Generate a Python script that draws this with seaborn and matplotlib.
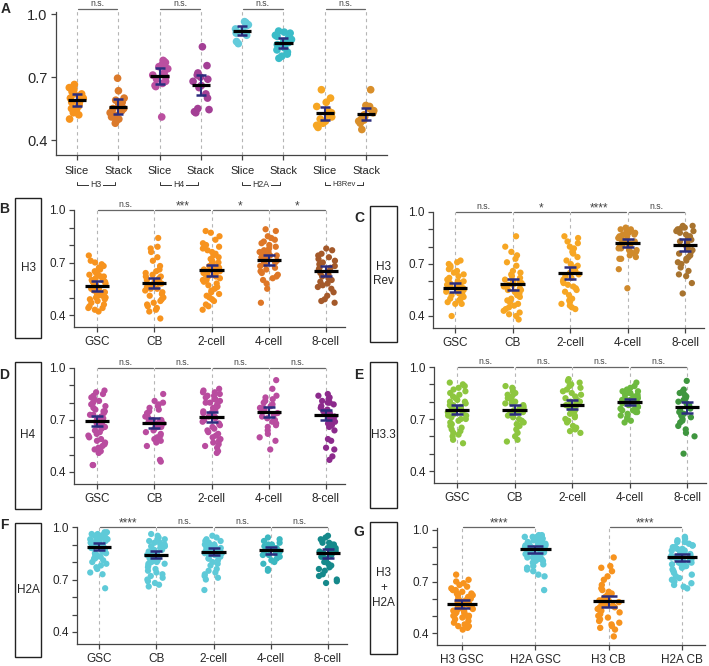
import matplotlib
matplotlib.use("Agg")
import matplotlib.pyplot as plt
from matplotlib.patches import Rectangle
import matplotlib.transforms as mtransforms
import seaborn as sns
import pandas as pd
import numpy as np

# ---------------- data ----------------
A_cats = ["Slice", "Stack", "Slice ", "Stack ", "Slice  ", "Stack  ", "Slice   ", "Stack   "]
A_groups = ["H3", "H4", "H2A", "H3Rev"]
A_vals = [
    [0.665, 0.65, 0.64, 0.63, 0.62, 0.62, 0.61, 0.60, 0.60, 0.59, 0.58, 0.58, 0.57, 0.56, 0.55, 0.54, 0.53, 0.52, 0.50],
    [0.695, 0.635, 0.60, 0.59, 0.58, 0.57, 0.56, 0.56, 0.55, 0.55, 0.54, 0.53, 0.52, 0.51, 0.50, 0.49, 0.48],
    [0.78, 0.775, 0.77, 0.76, 0.75, 0.74, 0.72, 0.71, 0.70, 0.69, 0.68, 0.67, 0.66, 0.655, 0.51],
    [0.845, 0.755, 0.72, 0.71, 0.70, 0.69, 0.68, 0.66, 0.65, 0.62, 0.60, 0.55, 0.545, 0.535, 0.53],
    [0.965, 0.96, 0.95, 0.945, 0.93, 0.92, 0.91, 0.90, 0.87, 0.86],
    [0.92, 0.915, 0.91, 0.90, 0.895, 0.89, 0.88, 0.87, 0.865, 0.86, 0.855, 0.85, 0.84, 0.83, 0.82, 0.81, 0.80, 0.79],
    [0.64, 0.60, 0.58, 0.56, 0.54, 0.53, 0.52, 0.51, 0.50, 0.49, 0.48, 0.47, 0.46],
    [0.64, 0.565, 0.56, 0.55, 0.54, 0.53, 0.52, 0.51, 0.50, 0.495, 0.49, 0.48, 0.45],
]
A_mean = [0.592, 0.559, 0.705, 0.662, 0.922, 0.862, 0.527, 0.524]
A_sem = [0.028, 0.035, 0.040, 0.048, 0.022, 0.024, 0.030, 0.027]
A_colors = ["#f7941d", "#db7a2b", "#bb4fa0", "#a33f95", "#63cbdb", "#3bbcc8", "#f6a623", "#d98f2b"]
A_sig = ["n.s.", "n.s.", "n.s.", "n.s."]

stages = ["GSC", "CB", "2-cell", "4-cell", "8-cell"]

H3_GSC = [0.74, 0.71, 0.70, 0.69, 0.68, 0.67, 0.66, 0.65, 0.65, 0.64, 0.63, 0.63, 0.62, 0.62, 0.61, 0.60,
          0.60, 0.59, 0.59, 0.58, 0.58, 0.57, 0.57, 0.57, 0.56, 0.56, 0.55, 0.55, 0.54, 0.54, 0.53, 0.53,
          0.52, 0.52, 0.51, 0.51, 0.50, 0.50, 0.49, 0.49, 0.48, 0.47, 0.46, 0.45, 0.44, 0.44, 0.43, 0.42]
H3_CB = [0.84, 0.79, 0.78, 0.76, 0.73, 0.71, 0.68, 0.66, 0.65, 0.64, 0.63, 0.62, 0.62, 0.61, 0.60, 0.60,
         0.59, 0.59, 0.58, 0.58, 0.57, 0.57, 0.56, 0.56, 0.55, 0.55, 0.54, 0.53, 0.52, 0.51, 0.50, 0.49,
         0.48, 0.47, 0.46, 0.45, 0.44, 0.43, 0.42, 0.38]
H3_2c = [0.88, 0.87, 0.85, 0.83, 0.81, 0.80, 0.79, 0.78, 0.77, 0.76, 0.75, 0.74, 0.73, 0.72, 0.71, 0.70,
         0.70, 0.69, 0.68, 0.68, 0.67, 0.67, 0.66, 0.66, 0.65, 0.65, 0.64, 0.64, 0.63, 0.63, 0.62, 0.62,
         0.61, 0.60, 0.60, 0.59, 0.58, 0.57, 0.56, 0.55, 0.54, 0.53, 0.52, 0.51, 0.50, 0.49, 0.48, 0.46,
         0.45, 0.43]
H3_4c = [0.89, 0.88, 0.85, 0.84, 0.83, 0.82, 0.81, 0.80, 0.79, 0.78, 0.77, 0.76, 0.76, 0.75, 0.74, 0.74,
         0.73, 0.73, 0.72, 0.72, 0.71, 0.70, 0.70, 0.69, 0.68, 0.67, 0.66, 0.65, 0.64, 0.63, 0.62, 0.61,
         0.60, 0.58, 0.55, 0.47]
H3_8c = [0.78, 0.77, 0.75, 0.74, 0.73, 0.72, 0.71, 0.70, 0.69, 0.68, 0.67, 0.67, 0.66, 0.65, 0.64, 0.63,
         0.62, 0.61, 0.60, 0.59, 0.58, 0.57, 0.56, 0.55, 0.53, 0.51, 0.49, 0.48, 0.47]
H3_mean = [0.566, 0.583, 0.656, 0.713, 0.652]
H3_sem = [0.026, 0.029, 0.031, 0.030, 0.030]
H3_colors = ["#f7931e", "#f7931e", "#f7931e", "#de7727", "#a4592a"]
H3_sig = ["n.s.", "***", "*", "*"]

Rev_GSC = [0.72, 0.71, 0.70, 0.69, 0.68, 0.67, 0.66, 0.65, 0.64, 0.63, 0.62, 0.61, 0.60, 0.60, 0.59, 0.59,
           0.58, 0.58, 0.57, 0.57, 0.56, 0.56, 0.55, 0.55, 0.54, 0.54, 0.53, 0.53, 0.52, 0.52, 0.51, 0.50,
           0.50, 0.49, 0.48, 0.47, 0.47, 0.40]
Rev_CB = [0.86, 0.80, 0.77, 0.75, 0.73, 0.71, 0.69, 0.66, 0.65, 0.64, 0.63, 0.62, 0.61, 0.60, 0.60, 0.59,
          0.58, 0.58, 0.57, 0.56, 0.55, 0.55, 0.54, 0.53, 0.52, 0.51, 0.50, 0.49, 0.48, 0.47, 0.46, 0.45,
          0.44, 0.43, 0.42, 0.41, 0.40, 0.38]
Rev_2c = [0.86, 0.85, 0.83, 0.82, 0.80, 0.79, 0.78, 0.77, 0.76, 0.74, 0.72, 0.70, 0.69, 0.68, 0.67, 0.66,
          0.65, 0.64, 0.63, 0.62, 0.61, 0.60, 0.59, 0.58, 0.57, 0.56, 0.55, 0.54, 0.52, 0.50, 0.49, 0.48,
          0.47, 0.46, 0.45, 0.44]
Rev_4c = [0.91, 0.90, 0.90, 0.89, 0.89, 0.88, 0.88, 0.87, 0.87, 0.86, 0.86, 0.85, 0.85, 0.84, 0.84, 0.83,
          0.83, 0.82, 0.82, 0.81, 0.81, 0.80, 0.80, 0.79, 0.79, 0.78, 0.78, 0.77, 0.77, 0.76, 0.75, 0.74,
          0.73, 0.73, 0.67, 0.56]
Rev_8c = [0.92, 0.92, 0.91, 0.91, 0.90, 0.90, 0.89, 0.89, 0.88, 0.87, 0.86, 0.85, 0.84, 0.83, 0.82, 0.81,
          0.80, 0.79, 0.78, 0.77, 0.76, 0.75, 0.74, 0.73, 0.72, 0.71, 0.70, 0.68, 0.66, 0.64, 0.63, 0.59,
          0.53]
Rev_mean = [0.562, 0.583, 0.647, 0.822, 0.809]
Rev_sem = [0.026, 0.032, 0.035, 0.022, 0.034]
Rev_colors = ["#f7a623", "#f7a623", "#f7a623", "#d08a2c", "#a8732e"]
Rev_sig = ["n.s.", "*", "****", "n.s."]

H4_GSC = [0.87, 0.86, 0.85, 0.84, 0.83, 0.82, 0.81, 0.80, 0.79, 0.78, 0.77, 0.76, 0.75, 0.75, 0.74, 0.73,
          0.73, 0.72, 0.71, 0.70, 0.70, 0.69, 0.68, 0.68, 0.67, 0.66, 0.66, 0.65, 0.64, 0.63, 0.62, 0.61,
          0.60, 0.59, 0.58, 0.57, 0.56, 0.55, 0.54, 0.53, 0.52, 0.51, 0.44, 0.44]
H4_CB = [0.85, 0.81, 0.80, 0.79, 0.78, 0.77, 0.76, 0.75, 0.74, 0.73, 0.72, 0.71, 0.70, 0.70, 0.69, 0.69,
         0.68, 0.68, 0.67, 0.66, 0.66, 0.65, 0.64, 0.63, 0.62, 0.61, 0.60, 0.59, 0.58, 0.57, 0.55, 0.47,
         0.46]
H4_2c = [0.88, 0.87, 0.86, 0.86, 0.85, 0.84, 0.84, 0.83, 0.82, 0.82, 0.81, 0.80, 0.80, 0.79, 0.78, 0.78,
         0.77, 0.76, 0.76, 0.75, 0.74, 0.74, 0.73, 0.72, 0.72, 0.71, 0.70, 0.70, 0.69, 0.68, 0.67, 0.66,
         0.65, 0.64, 0.63, 0.62, 0.61, 0.60, 0.59, 0.58, 0.57, 0.56, 0.55, 0.54, 0.52, 0.51]
H4_4c = [0.93, 0.88, 0.84, 0.83, 0.82, 0.81, 0.80, 0.79, 0.78, 0.77, 0.77, 0.76, 0.75, 0.75, 0.74, 0.73,
         0.72, 0.71, 0.70, 0.69, 0.68, 0.67, 0.66, 0.64, 0.62, 0.60, 0.58, 0.53]
H4_8c = [0.85, 0.84, 0.83, 0.82, 0.81, 0.80, 0.80, 0.79, 0.78, 0.77, 0.76, 0.75, 0.75, 0.74, 0.73, 0.72,
         0.71, 0.70, 0.69, 0.68, 0.67, 0.66, 0.64, 0.59, 0.58, 0.54, 0.53, 0.49, 0.47]
H4_mean = [0.694, 0.683, 0.719, 0.746, 0.727]
H4_sem = [0.031, 0.027, 0.028, 0.028, 0.029]
H4_colors = ["#b94c9f", "#b94c9f", "#b94c9f", "#b94c9f", "#8c2a8c"]
H4_sig = ["n.s.", "n.s.", "n.s.", "n.s."]

H33_GSC = [0.91, 0.90, 0.89, 0.88, 0.87, 0.86, 0.85, 0.84, 0.83, 0.82, 0.81, 0.80, 0.80, 0.79, 0.78, 0.78,
           0.77, 0.76, 0.76, 0.75, 0.75, 0.74, 0.74, 0.73, 0.72, 0.72, 0.71, 0.70, 0.70, 0.69, 0.68, 0.67,
           0.66, 0.65, 0.64, 0.63, 0.62, 0.61, 0.60, 0.58, 0.56]
H33_CB = [0.89, 0.88, 0.86, 0.85, 0.84, 0.83, 0.82, 0.81, 0.80, 0.79, 0.79, 0.78, 0.77, 0.77, 0.76, 0.76,
          0.75, 0.74, 0.74, 0.73, 0.72, 0.71, 0.70, 0.69, 0.68, 0.67, 0.66, 0.64, 0.62, 0.60, 0.58, 0.57]
H33_2c = [0.93, 0.92, 0.91, 0.90, 0.89, 0.88, 0.87, 0.86, 0.85, 0.84, 0.83, 0.82, 0.81, 0.80, 0.80, 0.79,
          0.78, 0.78, 0.77, 0.76, 0.75, 0.74, 0.73, 0.72, 0.71, 0.70, 0.69, 0.68, 0.66, 0.65, 0.64, 0.63,
          0.62]
H33_4c = [0.91, 0.89, 0.88, 0.87, 0.86, 0.86, 0.85, 0.85, 0.84, 0.84, 0.83, 0.83, 0.82, 0.82, 0.81, 0.81,
          0.80, 0.80, 0.79, 0.79, 0.78, 0.78, 0.77, 0.77, 0.76, 0.76, 0.75, 0.75, 0.74, 0.74, 0.73, 0.72,
          0.71, 0.70, 0.69, 0.68]
H33_8c = [0.92, 0.87, 0.86, 0.85, 0.84, 0.83, 0.82, 0.81, 0.80, 0.79, 0.78, 0.77, 0.76, 0.75, 0.74, 0.73,
          0.72, 0.71, 0.70, 0.69, 0.68, 0.66, 0.64, 0.62, 0.60, 0.50]
H33_mean = [0.752, 0.752, 0.781, 0.798, 0.767]
H33_sem = [0.026, 0.026, 0.026, 0.016, 0.033]
H33_colors = ["#8dc63f", "#8dc63f", "#8dc63f", "#6cb93f", "#3f963f"]
H33_sig = ["n.s.", "n.s.", "n.s.", "n.s."]

H2A_GSC = [0.97, 0.97, 0.96, 0.96, 0.96, 0.95, 0.95, 0.95, 0.94, 0.94, 0.94, 0.93, 0.93, 0.93, 0.92, 0.92,
           0.92, 0.91, 0.91, 0.91, 0.90, 0.90, 0.90, 0.89, 0.89, 0.89, 0.88, 0.88, 0.87, 0.87, 0.86, 0.86,
           0.85, 0.85, 0.84, 0.84, 0.83, 0.83, 0.82, 0.82, 0.81, 0.80, 0.79, 0.78, 0.77, 0.76, 0.74, 0.73,
           0.65]
H2A_CB = [0.96, 0.95, 0.94, 0.93, 0.93, 0.92, 0.91, 0.91, 0.90, 0.90, 0.89, 0.89, 0.88, 0.88, 0.87, 0.87,
          0.86, 0.86, 0.86, 0.85, 0.85, 0.84, 0.84, 0.84, 0.83, 0.83, 0.82, 0.82, 0.81, 0.81, 0.80, 0.80,
          0.79, 0.79, 0.78, 0.77, 0.76, 0.75, 0.74, 0.73, 0.72, 0.71, 0.70, 0.69, 0.68, 0.67, 0.66]
H2A_2c = [0.95, 0.94, 0.93, 0.92, 0.92, 0.91, 0.91, 0.90, 0.90, 0.89, 0.89, 0.89, 0.88, 0.88, 0.88, 0.87,
          0.87, 0.87, 0.86, 0.86, 0.86, 0.85, 0.85, 0.85, 0.84, 0.84, 0.83, 0.83, 0.82, 0.82, 0.81, 0.80,
          0.79, 0.78, 0.76, 0.75, 0.74, 0.73, 0.72, 0.71, 0.70, 0.64]
H2A_4c = [0.94, 0.93, 0.92, 0.91, 0.90, 0.90, 0.89, 0.89, 0.88, 0.88, 0.87, 0.87, 0.86, 0.86, 0.85, 0.85,
          0.84, 0.84, 0.83, 0.82, 0.81, 0.80, 0.79, 0.76, 0.75]
H2A_8c = [0.95, 0.94, 0.93, 0.92, 0.91, 0.91, 0.90, 0.90, 0.89, 0.89, 0.88, 0.88, 0.87, 0.87, 0.86, 0.86,
          0.85, 0.84, 0.83, 0.82, 0.81, 0.80, 0.79, 0.78, 0.77, 0.76, 0.75, 0.73, 0.72, 0.70, 0.69, 0.68]
H2A_mean = [0.887, 0.841, 0.860, 0.866, 0.850]
H2A_sem = [0.020, 0.020, 0.021, 0.018, 0.025]
H2A_colors = ["#5ecad8", "#5ecad8", "#5ecad8", "#3bb7c0", "#15898b"]
H2A_sig = ["****", "n.s.", "n.s.", "n.s."]

G_cats = ["H3 GSC", "H2A GSC", "H3 CB", "H2A CB"]
G_mean = [0.567, 0.887, 0.585, 0.840]
G_sem = [0.024, 0.020, 0.031, 0.023]
G_colors = ["#f7931e", "#5ecad8", "#f7931e", "#5ecad8"]
G_sig = ["****", "****"]

NAVY = "#2b2d7e"
W, H = 709, 666

sns.set_style("ticks")
plt.rcParams["font.family"] = ["Liberation Sans", "DejaVu Sans"]

fig = plt.figure(figsize=(W / 100, H / 100), dpi=100)


def make_axes(xaxis, xend, cat0, catn, n, y10, y04, ytop=1.0, ybot=0.33):
    step = (catn - cat0) / (n - 1)
    xlim = ((xaxis - cat0) / step, (n - 1) + (xend - catn) / step)
    ppu = (y04 - y10) / 0.6
    top = y10 - (ytop - 1.0) * ppu
    bot = y04 + (0.4 - ybot) * ppu
    ax = fig.add_axes([xaxis / W, 1 - bot / H, (xend - xaxis) / W, (bot - top) / H])
    return ax, xlim, (ybot, ytop)


def draw_panel(ax, xlim, ylim, cats, vals, colors, means, sems, sig_pairs, sig_y,
               dot=4.5, jit=0.16, cap=4.0, half=0.21, minor=True, yfs=8.5, xfs=8.5, xpad=3):
    df = pd.DataFrame({"group": np.repeat(cats, [len(v) for v in vals]),
                       "value": np.concatenate(vals)})
    sns.stripplot(data=df, x="group", y="value", hue="group", order=cats, hue_order=cats,
                  palette=dict(zip(cats, colors)), legend=False, jitter=jit, size=dot,
                  linewidth=0, ax=ax, zorder=2)
    x = np.arange(len(cats))
    ax.vlines(x, ylim[0], sig_y, colors="#b5b5b5", linestyles=(0, (3, 3)), lw=0.8,
              zorder=0, clip_on=False)
    ax.errorbar(x, means, yerr=sems, fmt="none", ecolor=NAVY, elinewidth=1.5,
                capsize=cap, capthick=1.8, zorder=4)
    ax.hlines(means, x - half, x + half, colors="black", lw=2.3, zorder=5)
    for (i, j), lab in sig_pairs:
        ax.plot([i + 0.02, j - 0.02], [sig_y, sig_y], color="#666666", lw=0.9,
                clip_on=False, zorder=3)
        if lab == "n.s.":
            ax.text((i + j) / 2, sig_y + 0.008, lab, ha="center", va="bottom",
                    fontsize=6.3, color="#444444", clip_on=False)
        else:
            ax.text((i + j) / 2, sig_y - 0.012, lab, ha="center", va="bottom",
                    fontsize=8.5, color="#444444", clip_on=False)
    ax.set_xlim(*xlim)
    ax.set_ylim(*ylim)
    ax.set_xlabel("")
    ax.set_ylabel("")
    ax.set_yticks([0.4, 0.7, 1.0])
    ax.set_yticklabels(["0.4", "0.7", "1.0"], fontsize=yfs)
    if minor:
        ax.set_yticks([0.5, 0.6, 0.8, 0.9], minor=True)
    ax.set_xticks(x)
    ax.set_xticklabels([c.strip() for c in cats], fontsize=xfs)
    ax.tick_params(which="both", length=3.5, width=0.9, color="#444444", pad=2.5)
    ax.tick_params(axis="x", pad=xpad)
    sns.despine(ax=ax)
    for s in ["left", "bottom"]:
        ax.spines[s].set_color("#444444")
        ax.spines[s].set_linewidth(0.9)
    ax.spines["left"].set_bounds(ylim[0], 1.0 if sig_y <= 1.0 else 1.01)
    ax.patch.set_alpha(0)


def label_box(x0, y0, x1, y1, text):
    fig.add_artist(Rectangle((x0 / W, 1 - y1 / H), (x1 - x0) / W, (y1 - y0) / H,
                             transform=fig.transFigure, fill=False, ec="#222222", lw=1.0))
    fig.text((x0 + x1) / 2 / W, 1 - (y0 + y1) / 2 / H, text, ha="center", va="center",
             fontsize=8.5, linespacing=1.3)


def letter(x, y, s):
    fig.text(x / W, 1 - y / H, s, ha="center", va="center", fontsize=10, weight="bold")


pairs5 = [(0, 1), (1, 2), (2, 3), (3, 4)]

# ---- A ----
axA, xl, yl = make_axes(56, 387, 77, 366, 8, 14.3, 140, ytop=1.04, ybot=0.328)
draw_panel(axA, xl, yl, A_cats, A_vals, A_colors, A_mean, A_sem,
           list(zip([(0, 1), (2, 3), (4, 5), (6, 7)], A_sig)), 1.024,
           dot=5.5, jit=0.2, cap=3.6, half=0.22, minor=False, yfs=10.5, xfs=8, xpad=4)
trA = mtransforms.blended_transform_factory(axA.transData, axA.transAxes)
for k, g in enumerate(A_groups):
    i = 2 * k
    yb = -0.2
    axA.plot([i, i, i + 0.92, i + 0.92], [yb + 0.022, yb, yb, yb + 0.022], color="#333333",
             lw=0.7, transform=trA, clip_on=False)
    axA.text(i + 0.46, yb, g, transform=trA, ha="center", va="center",
             fontsize=5.5 if g == "H3Rev" else 6.3, color="#333333",
             bbox=dict(boxstyle="square,pad=0.15", fc="white", ec="none"))
letter(6, 9, "A")

# ---- B ----
axB, xl, yl = make_axes(74, 345, 97, 326, 5, 210, 315)
draw_panel(axB, xl, yl, stages, [H3_GSC, H3_CB, H3_2c, H3_4c, H3_8c], H3_colors,
           H3_mean, H3_sem, list(zip(pairs5, H3_sig)), 1.0)
label_box(15, 198, 41, 338, "H3")
letter(4, 209, "B")

# ---- C ----
axC, xl, yl = make_axes(433, 704, 455, 685, 5, 212, 316)
draw_panel(axC, xl, yl, stages, [Rev_GSC, Rev_CB, Rev_2c, Rev_4c, Rev_8c], Rev_colors,
           Rev_mean, Rev_sem, list(zip(pairs5, Rev_sig)), 1.0)
label_box(370, 206, 397, 342, "H3\nRev")
letter(359, 218, "C")

# ---- D ----
axD, xl, yl = make_axes(74, 345, 97, 326, 5, 368, 472)
draw_panel(axD, xl, yl, stages, [H4_GSC, H4_CB, H4_2c, H4_4c, H4_8c], H4_colors,
           H4_mean, H4_sem, list(zip(pairs5, H4_sig)), 1.0)
label_box(15, 362, 41, 509, "H4")
letter(4, 375, "D")

# ---- E ----
axE, xl, yl = make_axes(434, 706, 457, 687, 5, 367, 471)
draw_panel(axE, xl, yl, stages, [H33_GSC, H33_CB, H33_2c, H33_4c, H33_8c], H33_colors,
           H33_mean, H33_sem, list(zip(pairs5, H33_sig)), 1.0)
label_box(370, 362, 397, 508, "H3.3")
letter(359, 375, "E")

# ---- F ----
axF, xl, yl = make_axes(77, 347, 99, 328, 5, 527, 632)
draw_panel(axF, xl, yl, stages, [H2A_GSC, H2A_CB, H2A_2c, H2A_4c, H2A_8c], H2A_colors,
           H2A_mean, H2A_sem, list(zip(pairs5, H2A_sig)), 1.0)
label_box(15, 523, 41, 657, "H2A")
letter(4, 525, "F")

# ---- G ----
axG, xl, yl = make_axes(437, 705, 462, 682, 4, 530, 633)
draw_panel(axG, xl, yl, G_cats, [H3_GSC, H2A_GSC, H3_CB, H2A_CB], G_colors,
           G_mean, G_sem, list(zip([(0, 1), (2, 3)], G_sig)), 1.017,
           dot=4.6, jit=0.15, cap=6.0, half=0.21)
label_box(370, 522, 397, 654, "H3\n+\nH2A")
letter(359, 532, "G")

fig.savefig("out.png", dpi=100)
